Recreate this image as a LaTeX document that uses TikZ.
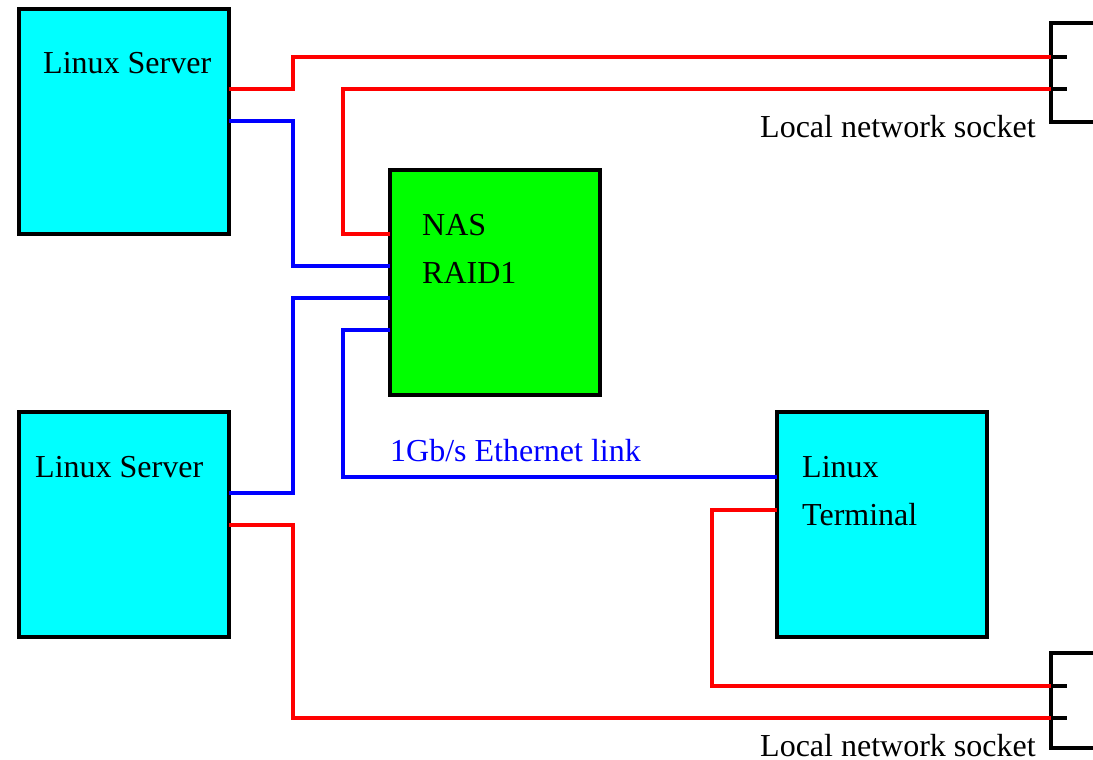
\documentclass[tikz,border=0pt]{standalone}
\usepackage{fontspec}
\setmainfont{Liberation Serif}
\usetikzlibrary{calc}
\definecolor{servercyan}{RGB}{0,255,255}
\definecolor{nasgreen}{RGB}{0,255,0}

\tikzset{
  box/.style={draw=black,line width=4pt,minimum width=210pt,minimum height=225pt,
              inner sep=0pt,outer sep=0pt},
  server/.style={box,fill=servercyan},
  nas/.style={box,fill=nasgreen},
  redwire/.style={draw=red,line width=4pt},
  bluewire/.style={draw=blue,line width=4pt},
  socket/.style={draw=black,line width=4pt},
  lbl/.style={anchor=base west,inner sep=0pt,text depth=0pt,font=\fontsize{32}{38}\selectfont}
}

\begin{document}
\begin{tikzpicture}[x=1pt,y=-1pt]
  \useasboundingbox (0,0) rectangle (1093,760);

  % boxes
  \node[server] (srvA) at (124,121.5) {};
  \node[server] (srvB) at (124,524) {};
  \node[nas] (nas) at (495,282) {};
  \node[server] (term) at (882,524) {};

  \node[lbl] (srvAtxt) at (43,74) {Linux Server};
  \node[lbl] (srvBtxt) at (35,477) {Linux Server};
  \node[lbl] (nastxt) at (422,235) {NAS};
  \node[lbl] (raidtxt) at (422,283) {RAID1};
  \node[lbl] (termtxt) at (802,477) {Linux};
  \node[lbl] (termtxtb) at (802,525) {Terminal};

  % sockets
  \draw[socket] (1093,23) -- (1051,23) -- (1051,122) -- (1093,122);
  \draw[socket] (1051,57) -- (1067,57);
  \draw[socket] (1051,89) -- (1067,89);
  \coordinate (sockA1) at (1051,57);
  \coordinate (sockA2) at (1051,89);
  \node[lbl] (sockAtxt) at (760,137) {Local network socket};

  \draw[socket] (1093,653) -- (1051,653) -- (1051,748) -- (1093,748);
  \draw[socket] (1051,686) -- (1067,686);
  \draw[socket] (1051,718) -- (1067,718);
  \coordinate (sockB1) at (1051,686);
  \coordinate (sockB2) at (1051,718);
  \node[lbl] (sockBtxt) at (760,756) {Local network socket};

  % local network
  \draw[redwire] ($(srvA.north east)+(0,80)$) -- ++(64,0) |- (sockA1);
  \draw[redwire] ($(nas.north west)+(0,64)$) -- ++(-47,0) |- (sockA2);
  \draw[redwire] ($(srvB.north east)+(0,113)$) -- ++(64,0) |- (sockB2);
  \draw[redwire] ($(term.north west)+(0,98)$) -- ++(-65,0) |- (sockB1);

  % ethernet
  \draw[bluewire] ($(srvA.north east)+(0,112)$) -- ++(64,0) |- ($(nas.north west)+(0,96)$);
  \draw[bluewire] ($(srvB.north east)+(0,81)$) -- ++(64,0) |- ($(nas.north west)+(0,128)$);
  \draw[bluewire] ($(nas.north west)+(0,160)$) -- ++(-47,0) |- ($(term.north west)+(0,65)$);
  \node[lbl,text=blue] (ethtxt) at (390,461) {1Gb/s Ethernet link};
\end{tikzpicture}
\end{document}
